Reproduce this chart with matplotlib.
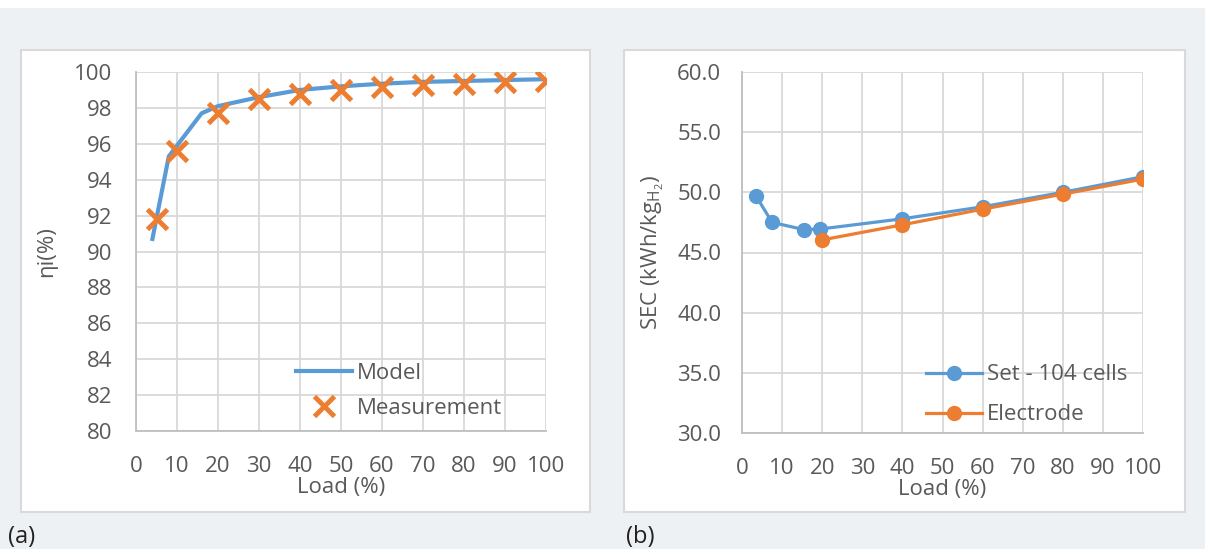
import matplotlib.pyplot as plt
from matplotlib.patches import Rectangle

plt.rcParams['font.family'] = ['Open Sans', 'DejaVu Sans']
plt.rcParams['mathtext.fontset'] = 'custom'
plt.rcParams['mathtext.rm'] = 'Open Sans'
plt.rcParams['mathtext.it'] = 'Open Sans'

# (a) efficiency vs load
model_load = [4, 8, 16, 20, 30, 40, 50, 60, 70, 80, 90, 100]
model_eta = [90.7, 95.3, 97.7, 98.1, 98.6, 99.0, 99.2, 99.35, 99.45, 99.5, 99.55, 99.6]
meas_load = [5, 10, 20, 30, 40, 50, 60, 70, 80, 90, 100]
meas_eta = [91.8, 95.6, 97.7, 98.5, 98.8, 99.0, 99.15, 99.25, 99.35, 99.45, 99.5]

# (b) specific energy consumption vs load
set_load = [3.5, 7.5, 15.5, 19.5, 40, 60, 80, 100]
set_sec = [49.7, 47.5, 46.9, 46.95, 47.8, 48.8, 50.0, 51.3]
elec_load = [20, 40, 60, 80, 100]
elec_sec = [46.05, 47.3, 48.6, 49.85, 51.1]

x_ticks = list(range(0, 101, 10))
eta_ticks = list(range(80, 101, 2))
sec_ticks = [30.0, 35.0, 40.0, 45.0, 50.0, 55.0, 60.0]

blue = '#5B9BD5'
orange = '#ED7D31'
grid_c = '#D9D9D9'
text_c = '#595959'
fs = 16

fig = plt.figure(figsize=(12.05, 5.49), dpi=100)
fig.patch.set_facecolor('#EEF1F4')

# white band at the top and the two white chart boxes
fig.add_artist(Rectangle((0, 1 - 8 / 549), 1, 8 / 549, transform=fig.transFigure,
                         facecolor='white', edgecolor='none', zorder=0))
for x0, x1 in [(21, 590), (624, 1185)]:
    fig.add_artist(Rectangle((x0 / 1205, 1 - 512 / 549), (x1 - x0) / 1205, 462 / 549,
                             transform=fig.transFigure, facecolor='white',
                             edgecolor='#D9D9D9', linewidth=1.5, zorder=0))


def style(ax, ypad):
    ax.set_facecolor('white')
    ax.grid(True, color=grid_c, linewidth=1.3)
    ax.set_axisbelow(True)
    for s in ['top', 'right']:
        ax.spines[s].set_visible(False)
    for s in ['left', 'bottom']:
        ax.spines[s].set_color('#BFBFBF')
        ax.spines[s].set_linewidth(1.3)
    ax.tick_params(length=0, labelsize=fs, labelcolor=text_c)
    ax.tick_params(axis='x', pad=18)
    ax.tick_params(axis='y', pad=ypad)
    ax.set_xlim(0, 100)
    ax.set_xticks(x_ticks)


ax1 = fig.add_axes([136 / 1205, 1 - 431 / 549, 410 / 1205, 359 / 549])
style(ax1, 17)
ax1.plot(model_load, model_eta, color=blue, linewidth=3, label='Model', zorder=3)
ax1.plot(meas_load, meas_eta, linestyle='none', marker='x', markersize=14,
         markeredgewidth=3.5, color=orange, label='Measurement', zorder=4)
ax1.set_ylim(80, 100)
ax1.set_yticks(eta_ticks)
ax1.set_xlabel('Load (%)', fontsize=fs, color=text_c, labelpad=0)
ax1.set_ylabel('ηi(%)', fontsize=fs, color=text_c, labelpad=12)
ax1.legend(loc='upper left', bbox_to_anchor=(160 / 410, 0.19), frameon=False, fontsize=fs,
           labelcolor=text_c, handlelength=2.5, handletextpad=0.25, borderaxespad=0,
           borderpad=0, labelspacing=0.62)

ax2 = fig.add_axes([742 / 1205, 1 - 433 / 549, 401 / 1205, 361 / 549])
style(ax2, 15)
ax2.plot(set_load, set_sec, color=blue, linewidth=2.3, marker='o', markersize=10,
         label='Set - 104 cells', zorder=3)
ax2.plot(elec_load, elec_sec, color=orange, linewidth=2.3, marker='o', markersize=10,
         label='Electrode', zorder=4)
ax2.set_ylim(30, 60)
ax2.set_yticks(sec_ticks)
ax2.set_yticklabels([f'{v:.1f}' for v in sec_ticks])
ax2.set_xlabel('Load (%)', fontsize=fs, color=text_c, labelpad=0)
ax2.set_ylabel(r'SEC (kWh/kg$_{\mathregular{H}_2}$)', fontsize=fs, color=text_c, labelpad=8)
ax2.legend(loc='upper left', bbox_to_anchor=(184 / 401, 0.19), frameon=False, fontsize=fs,
           labelcolor=text_c, handlelength=2.5, handletextpad=0.25, borderaxespad=0,
           borderpad=0, labelspacing=0.85)

fig.text(8 / 1205, 1 - 537 / 549, '(a)', fontsize=17, color='#222222', va='center')
fig.text(626 / 1205, 1 - 537 / 549, '(b)', fontsize=17, color='#222222', va='center')

fig.savefig('out.png', dpi=100, facecolor=fig.get_facecolor())
